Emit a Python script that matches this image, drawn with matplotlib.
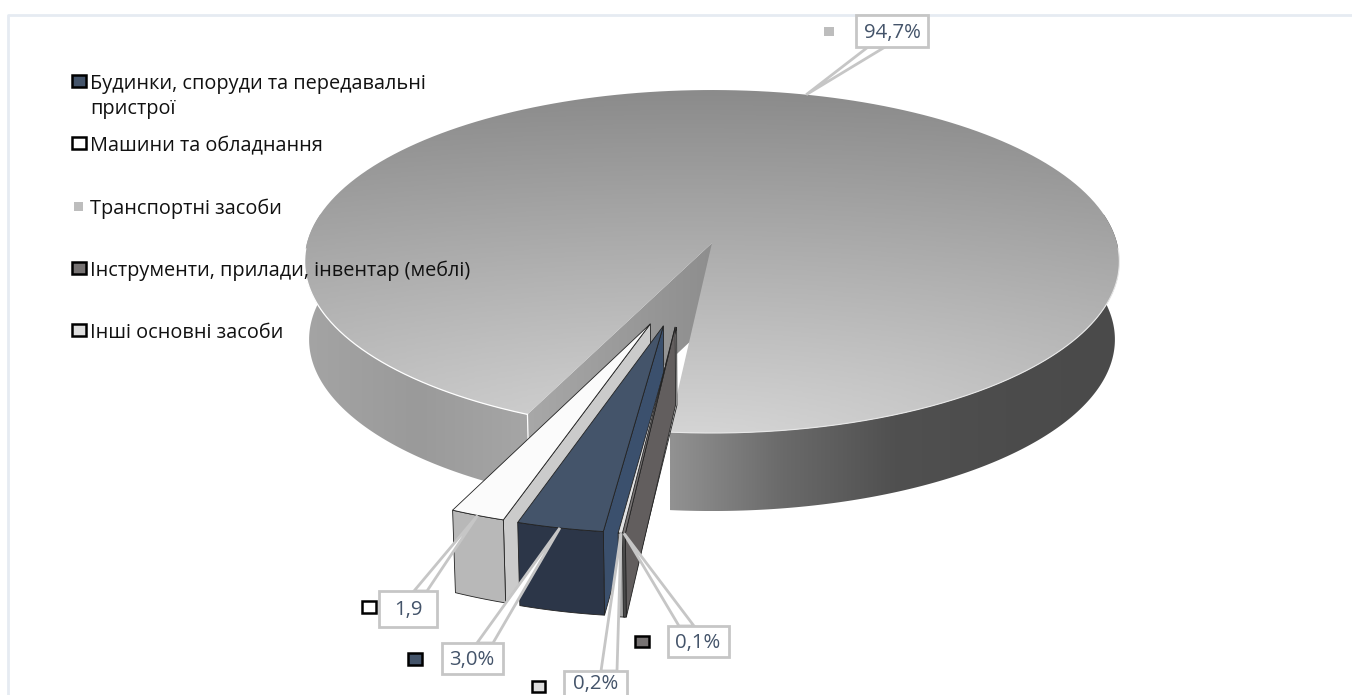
import numpy as np
import matplotlib
matplotlib.use('Agg')
from matplotlib import pyplot as plt
from matplotlib.patches import Polygon, Rectangle
from matplotlib.colors import LinearSegmentedColormap

plt.rcParams['font.family'] = ['Open Sans', 'DejaVu Sans']

# share of each asset group, legend order
categories = ['Будинки, споруди та передавальні\nпристрої', 'Машини та обладнання',
              'Транспортні засоби', 'Інструменти, прилади, інвентар (меблі)',
              'Інші основні засоби']
shares = [3.0, 1.9, 94.7, 0.1, 0.2]
value_labels = ['3,0%', '1,9', '94,7%', '0,1%', '0,2%']

# pulled-out distance and direction of each slice
explode = [0.478, 0.476, 0.0, 0.478, 0.478]
explode_dir = [13.8, 17.7, 0.0, 10.4, 10.0]
slice_radius = [0.98, 0.98, 1.0, 0.98, 0.98]

# colours: top, outer wall, cut wall
top_col = ['#44546a', '#fbfbfb', None, '#777373', '#e2e2e2']
wall_col = ['#2c3648', '#b8b8b8', None, '#4a4a4a', '#a6a6a6']
cut_col = ['#3b506d', '#cbcbcb', None, '#625e5e', '#ededed']
key_col = ['#44546a', '#ffffff', '#bdbdbd', '#777373', '#dedede']

# callouts: text centre, box, base of the leader
label_xy = [(472, 660), (408, 610), (892, 33), (698, 643), (596, 684)]
box_xy = [(442, 643, 503, 674), (379, 591, 437, 627), (856, 15, 928, 47),
          (668, 626, 729, 657), (564, 671, 627, 705)]
base_xy = [(477, 493, 643), (414, 427, 591), (868, 885, 47), (679, 694, 626), (601, 617, 671)]
small_key = [(408, 653, 14, 12), (362, 601, 14, 12), (824, 27, 10, 9), (635, 636, 14, 11), (532, 681, 13, 11)]

legend_y = [82, 144, 207, 269, 331]

# projection of the disc
cx, cy = 712, 243
a, b, k = 405, 169.5, 0.108
H, H_near = 78, 13
first_angle = 6.6


def project(X, v, drop=False):
    w = 1 - k * v
    sx = cx + a * X / w
    sy = cy + b * v / w
    if drop:
        sx = cx + (sx - cx) * 0.989
        sy = sy + H + H_near * np.clip(v - 1, 0, None)
    return np.column_stack([sx, sy]) if np.ndim(X) else np.array([sx, sy])


def rim(t0, t1, ox=0.0, ov=0.0, r=1.0, drop=False, n=200):
    t = np.radians(np.linspace(t0, t1, n))
    return project(ox - r * np.sin(t), ov + r * np.cos(t), drop)


def shade(ax, pts, colors, zorder=1, lims=None):
    # horizontal gradient clipped to a polygon
    poly = Polygon(pts, closed=True, transform=ax.transData, fc='none', ec='none')
    ax.add_patch(poly)
    cmap = LinearSegmentedColormap.from_list('g', colors)
    x0, y0 = pts.min(axis=0)
    x1, y1 = pts.max(axis=0)
    if lims is not None:
        x0, x1 = lims
    grad = np.linspace(0, 1, 256)[None, :]
    im = ax.imshow(grad, cmap=cmap, extent=(x0, x1, y1, y0), aspect='auto', zorder=zorder,
                   interpolation='bilinear')
    im.set_clip_path(poly)


def shade_top(ax, pts, colors, zorder=3):
    # light falls off elliptically from just below the front of the pie
    poly = Polygon(pts, closed=True, transform=ax.transData, fc='none', ec='none')
    ax.add_patch(poly)
    cmap = LinearSegmentedColormap.from_list('g', colors)
    x0, y0 = pts.min(axis=0)
    x1, y1 = pts.max(axis=0)
    xx, yy = np.meshgrid(np.linspace(x0, x1, 400), np.linspace(y0, y1, 200))
    d = np.hypot((xx - 690) / 1290, (yy - 450) / 360)
    im = ax.imshow(d, cmap=cmap, vmin=0.05, vmax=1.0, extent=(x0, x1, y1, y0), aspect='auto',
                   zorder=zorder, interpolation='bilinear')
    im.set_clip_path(poly)


fig = plt.figure(figsize=(13.52, 6.95), dpi=100, facecolor='w')
ax = fig.add_axes([0, 0, 1, 1])
ax.axis('off')

# outer frame
ax.plot([8, 8, 1352], [695, 15, 15], color='#e6ebf2', lw=2, zorder=0)

# slice angles, clockwise from the front of the pie
sweep = np.array(shares) / sum(shares) * 360
starts = first_angle + np.concatenate([[0], np.cumsum(sweep)[:-1]])
ends = starts + sweep

# big slice
i_big = int(np.argmax(shares))
t0, t1 = starts[i_big], ends[i_big]
apex_top = project(0.0, 0.0)
apex_bot = project(0.0, 0.0, True)
edge_top = rim(t0, t0, n=1)
edge_bot = rim(t0, t0, drop=True, n=1)
inner = np.vstack([apex_top, edge_top, edge_bot, apex_bot])
shade(ax, inner, ['#a8a8a8', '#8e8e8e'], zorder=1)
left = np.vstack([rim(t0, 100), rim(100, t0, drop=True)])
shade(ax, left, ['#a4a4a4', '#9a9a9a', '#a6a6a6'], zorder=2)
right = np.vstack([rim(260, t1), rim(t1, 260, drop=True)])
shade(ax, right, ['#929292', '#6a6a6a', '#505050', '#4c4c4c', '#4a4a4a'], zorder=2, lims=(670, 1118))
top = np.vstack([apex_top, rim(t0, t1)])
shade_top(ax, top, ['#d4d4d4', '#8b8b8b'], zorder=3)
# thin highlight along the front rim and the cut corner
arc = rim(t0, 88)
ax.plot(arc[:, 0], arc[:, 1], color='white', lw=0.9, zorder=4)
arc = rim(272, t1)
ax.plot(arc[:, 0], arc[:, 1], color='#e8e8e8', lw=0.8, zorder=4)
corner = np.vstack([edge_top, edge_bot])
ax.plot(corner[:, 0], corner[:, 1], color='white', lw=0.9, zorder=4)

# pulled-out slices, back to front
tips = {}
for i in [1, 0, 4, 3]:
    d = np.radians(explode_dir[i])
    ox = -explode[i] * np.sin(d)
    ov = explode[i] * np.cos(d)
    r = slice_radius[i]
    s, e = starts[i] % 360, ends[i] % 360
    if e < s:
        e += 360
    z = 10 + [1, 0, 4, 3].index(i) * 3
    ap_t = project(ox, ov)
    ap_b = project(ox, ov, True)
    cut = np.vstack([ap_t, rim(s, s, ox, ov, r, n=1), rim(s, s, ox, ov, r, True, n=1), ap_b])
    ax.add_patch(Polygon(cut, fc=cut_col[i], ec='#222222', lw=0.6, zorder=z))
    wall = np.vstack([rim(s, e, ox, ov, r, n=30), rim(e, s, ox, ov, r, True, n=30)])
    ax.add_patch(Polygon(wall, fc=wall_col[i], ec='#222222', lw=0.6, zorder=z + 1))
    surf = np.vstack([ap_t, rim(s, e, ox, ov, r, n=30)])
    ax.add_patch(Polygon(surf, fc=top_col[i], ec='#222222', lw=0.6, zorder=z + 2))
    tips[i] = rim((s + e) / 2, (s + e) / 2, ox, ov, r, n=1)[0]
tips[i_big] = rim((t0 + t1) / 2, (t0 + t1) / 2, n=1)[0]

# callouts
for i in range(len(shares)):
    bx0, by0, bx1, by1 = box_xy[i]
    p, q, y = base_xy[i]
    ax.add_patch(Polygon([(p, y), tips[i], (q, y)], fc='white', ec='#c6c6c6', lw=2,
                         joinstyle='miter', zorder=30))
    ax.add_patch(Rectangle((bx0, by0), bx1 - bx0, by1 - by0, fc='white', ec='#c6c6c6', lw=2, zorder=31))
    ax.text(label_xy[i][0], label_xy[i][1], value_labels[i], ha='center', va='center',
            fontsize=14.7, color='#44546a', zorder=32)
    kx, ky, kw, kh = small_key[i]
    if i == i_big:
        ax.add_patch(Rectangle((kx, ky), kw, kh, fc=key_col[i], ec='none', zorder=32))
    else:
        ax.add_patch(Rectangle((kx, ky), kw, kh, fc=key_col[i], ec='black', lw=1.8, zorder=32))

# legend
for i, name in enumerate(categories):
    y = legend_y[i]
    if i == i_big:
        ax.add_patch(Rectangle((74, y - 5), 9, 9, fc=key_col[i], ec='none', zorder=32))
    else:
        ax.add_patch(Rectangle((72, y - 7), 14, 12, fc=key_col[i], ec='black', lw=1.8, zorder=32))
    ax.text(90, y - 8, name, ha='left', va='top', fontsize=14.3, color='#111111',
            linespacing=1.31, zorder=33)

ax.set_xlim(0, 1352)
ax.set_ylim(695, 0)
fig.savefig('out.png', dpi=100)
